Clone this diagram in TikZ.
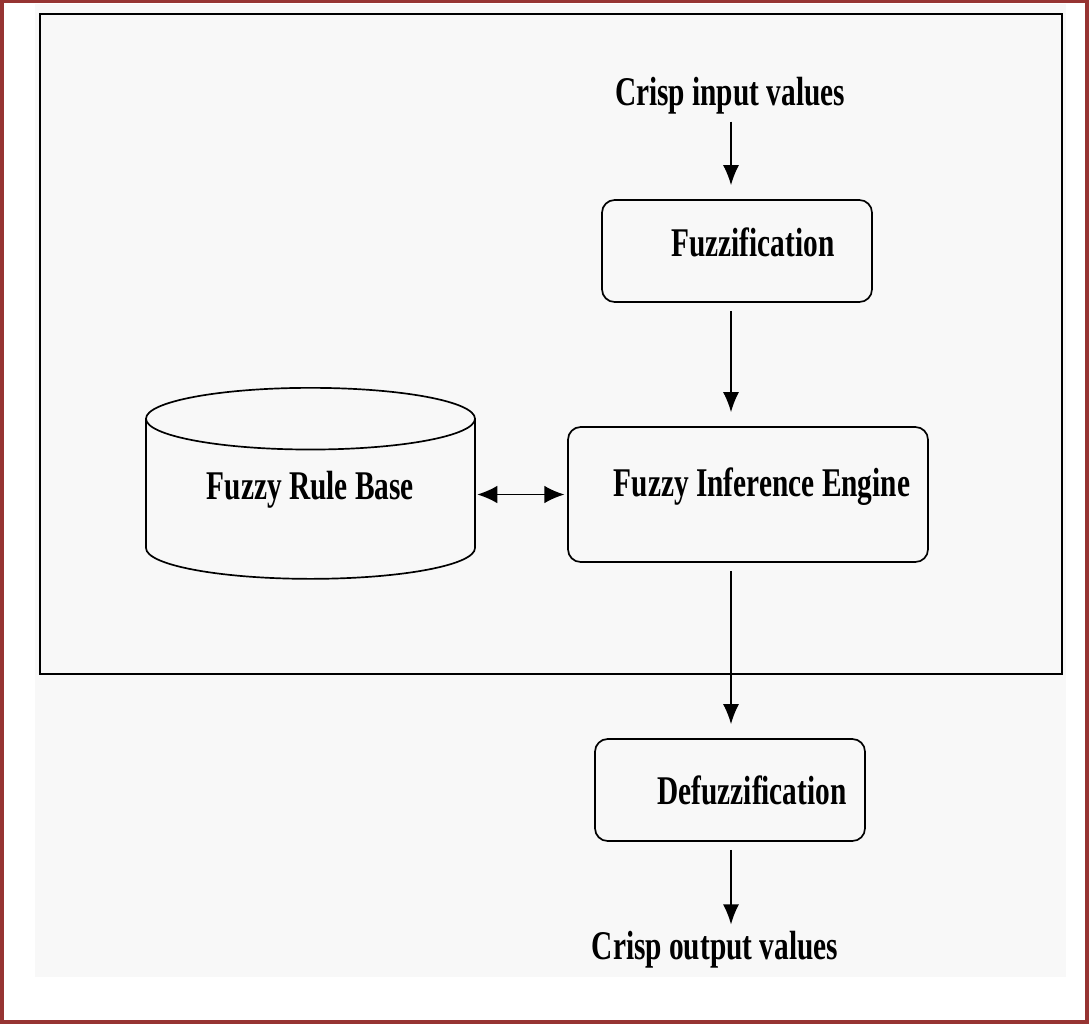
\documentclass[tikz,border=0pt]{standalone}
\usepackage{fontspec}
\setmainfont[FakeStretch=0.72]{Liberation Serif}
\usetikzlibrary{shapes.geometric,arrows.meta}
\definecolor{frame}{RGB}{150,52,50}
\definecolor{panel}{RGB}{248,248,248}
\tikzset{
	txt/.style={font=\bfseries\fontsize{29}{34}\selectfont, inner sep=2pt},
	block/.style={draw, line width=1.2pt, rounded corners=9pt, inner sep=2pt},
	flow/.style={-{Latex[length=5mm,width=4mm]}, line width=1pt, shorten <=0.2cm, shorten >=0.35cm}
}
\begin{document}
\begin{tikzpicture}
	\useasboundingbox (0,0) rectangle (27.225,-25.575);
	\draw[frame, line width=3pt] (0.04,-0.03) rectangle (27.185,-25.545);
	\fill[panel] (0.875,-0.1) rectangle (26.65,-24.425);
	\draw[line width=1.5pt] (1,-0.35) rectangle (26.55,-16.85);

	\node[txt] at (18.25,-2.4)(in){Crisp input values};
	\node[block, txt, minimum width=6.75cm, minimum height=2.55cm, text depth=0.45cm] at (18.425,-6.275)(fuzz){\hspace*{0.8cm}Fuzzification};
	\node[block, txt, minimum width=9cm, minimum height=3.375cm, text depth=0.62cm] at (18.7,-12.3625)(engine){\hspace*{0.7cm}Fuzzy Inference Engine};
	\node[block, txt, minimum width=6.75cm, minimum height=2.55cm] at (18.25,-19.75)(defuzz){\hspace*{1.1cm}Defuzzification};
	\node[txt] at (17.875,-23.75)(out){Crisp output values};
	\node[cylinder, shape border rotate=90, draw, line width=1.2pt, aspect=0.29, anchor=north,
		minimum width=8.225cm, minimum height=4.775cm, txt, text depth=0.85cm] at (7.7625,-9.675)(rules){Fuzzy Rule Base};

	\coordinate (spine) at (18.275,0);
	\path[flow] (in.south -| spine) edge[shorten <=0.1cm] (fuzz.north -| spine)
		(fuzz.south -| spine) edge (engine.north -| spine)
		(engine.south -| spine) edge (defuzz.north -| spine)
		(defuzz.south -| spine) edge[shorten >=0.1cm] (out.north -| spine);
	\draw[{Latex[length=5mm,width=4.4mm]}-{Latex[length=5mm,width=4.4mm]}, line width=1pt, shorten <=1pt, shorten >=2pt]
		(engine.west -| rules.east) -- (engine.west);
\end{tikzpicture}
\end{document}
